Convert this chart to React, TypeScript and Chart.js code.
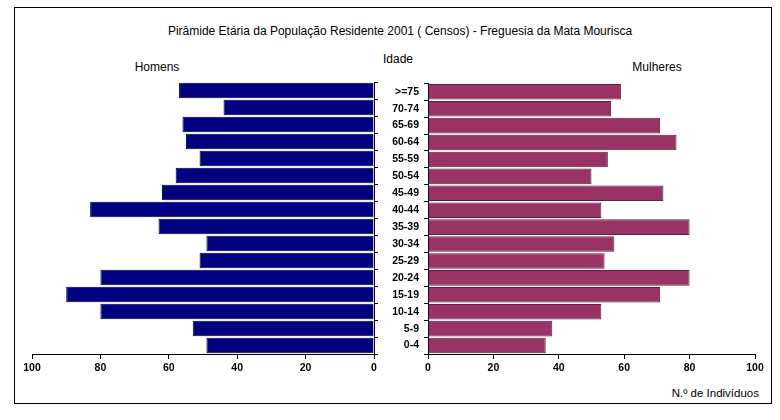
import React, { useEffect, useRef } from "react";
import { Chart, registerables } from "chart.js";
Chart.register(...registerables);

const ageGroups = ["0-4", "5-9", "10-14", "15-19", "20-24", "25-29", "30-34", "35-39", "40-44", "45-49", "50-54", "55-59", "60-64", "65-69", "70-74", ">=75"];
const homens = [49, 53, 80, 90, 80, 51, 49, 63, 83, 62, 58, 51, 55, 56, 44, 57];
const mulheres = [36, 38, 53, 71, 80, 54, 57, 80, 53, 72, 50, 55, 76, 71, 56, 59];
const axisMin = 0;
const axisMax = 100;
const axisStep = 20;

const titleText = "Pirâmide Etária da População Residente 2001 ( Censos) - Freguesia da Mata Mourisca";
const FONT = "Arial, 'Liberation Sans', sans-serif";
const tickFont = { family: FONT, size: 10.5, weight: "bold" as const };

function makeConfig(side: "left" | "right"): any {
  const isLeft = side === "left";
  return {
    type: "bar",
    data: {
      labels: ageGroups,
      datasets: [
        {
          label: isLeft ? "Homens" : "Mulheres",
          data: isLeft ? homens : mulheres,
          backgroundColor: isLeft ? "#000080" : "#993366",
          borderColor: isLeft ? "#000040" : "#5e1f3f",
          borderWidth: 1,
          barPercentage: 0.92,
          categoryPercentage: 1,
        },
      ],
    },
    options: {
      indexAxis: "y",
      responsive: false,
      animation: false,
      devicePixelRatio: 1,
      layout: {
        padding: isLeft
          ? { left: 20, top: 10, right: 0, bottom: 0 }
          : { left: 0, top: 10, right: 15, bottom: 0 },
      },
      plugins: {
        legend: { display: false },
        tooltip: { enabled: false },
        title: { display: false },
      },
      scales: {
        x: {
          type: "linear",
          min: axisMin,
          max: axisMax,
          reverse: isLeft,
          afterFit: (s: any) => {
            s.height = 24;
          },
          ticks: {
            stepSize: axisStep,
            color: "#000",
            font: tickFont,
            padding: 3,
          },
          grid: {
            drawOnChartArea: false,
            drawTicks: true,
            tickLength: 5,
            color: "#000",
          },
          border: { display: true, color: "#000", width: 1 },
        },
        y: {
          type: "category",
          position: isLeft ? "right" : "left",
          reverse: true,
          offset: true,
          afterFit: (s: any) => {
            s.width = isLeft ? 8 : 48;
          },
          ticks: {
            display: !isLeft,
            color: "#000",
            font: tickFont,
            padding: 5,
            autoSkip: false,
          },
          grid: {
            offset: true,
            drawOnChartArea: false,
            drawTicks: true,
            tickLength: 4,
            color: "#000",
          },
          border: { display: true, color: "#000", width: 1 },
        },
      },
    },
  };
}

function PyramidHalf({ side, left, top, width, height }: { side: "left" | "right"; left: number; top: number; width: number; height: number }) {
  const ref = useRef<HTMLCanvasElement | null>(null);
  useEffect(() => {
    if (!ref.current) return;
    const chart = new Chart(ref.current, makeConfig(side));
    return () => chart.destroy();
  }, [side]);
  return (
    <canvas
      ref={ref}
      width={width}
      height={height}
      style={{ position: "absolute", left, top, width, height }}
    />
  );
}

function Label({ text, x, y, size, align = "center", weight = "normal" }: { text: string; x: number; y: number; size: number; align?: "center" | "right"; weight?: string }) {
  const tx = align === "center" ? "-50%" : "-100%";
  return (
    <div
      style={{
        position: "absolute",
        left: x,
        top: y,
        transform: `translate(${tx}, -50%)`,
        whiteSpace: "nowrap",
        fontFamily: FONT,
        fontSize: size,
        fontWeight: weight as any,
        lineHeight: 1,
        color: "#000",
      }}
    >
      {text}
    </div>
  );
}

export default function App() {
  return (
    <div style={{ position: "fixed", left: 0, top: 0, width: 780, height: 420, background: "#fff", overflow: "hidden" }}>
      <div
        style={{
          position: "absolute",
          left: 14,
          top: 7,
          width: 756,
          height: 395,
          border: "1px solid #000",
        }}
      />
      <Label text={titleText} x={400} y={31} size={12} />
      <Label text="Idade" x={398} y={59} size={12} />
      <Label text="Homens" x={157} y={67} size={12} />
      <Label text="Mulheres" x={657} y={67} size={12} />
      <Label text="N.º de Indivíduos" x={759} y={394} size={11.5} align="right" />
      <PyramidHalf side="left" left={12} top={72} width={370} height={306} />
      <PyramidHalf side="right" left={380} top={72} width={390} height={306} />
    </div>
  );
}
